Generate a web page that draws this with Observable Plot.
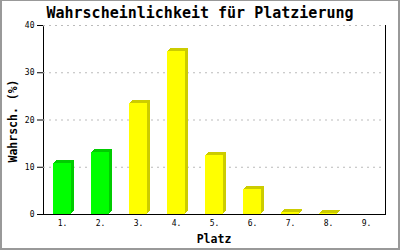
<!DOCTYPE html>
<html><head><meta charset="utf-8">
<script src="https://cdn.jsdelivr.net/npm/d3@7"></script>
<script src="https://cdn.jsdelivr.net/npm/@observablehq/plot@0.6"></script>
<style>
body{margin:0;background:#fff}
#wrap{position:relative;width:400px;height:250px;overflow:hidden;font-family:"DejaVu Sans Mono",monospace;background:#fff}
#border{position:absolute;left:0;top:0;width:400px;height:250px;box-sizing:border-box;border:2px solid #999;border-top-width:1px;pointer-events:none}
.t{position:absolute;font-weight:bold;white-space:nowrap;color:#000}
#title{left:0;width:400px;text-align:center;top:3px;font-size:15px;line-height:20px}
#xl{left:43px;width:342px;text-align:center;top:231px;font-size:11.5px;line-height:16px}
#yl{left:13px;top:121px;font-size:11.5px;line-height:14px;transform:translate(-50%,-50%) rotate(-90deg)}
#chart{position:absolute;left:0;top:0}
</style></head>
<body>
<div id="wrap">
  <div id="chart"></div>
  <div class="t" id="title">Wahrscheinlichkeit für Platzierung</div>
  <div class="t" id="yl">Wahrsch. (%)</div>
  <div class="t" id="xl">Platz</div>
  <div id="border"></div>
</div>
<script>
const places = ["1.", "2.", "3.", "4.", "5.", "6.", "7.", "8.", "9."];
const probs = [10.8, 13.1, 23.5, 34.6, 12.5, 5.3, 0.4, 0.2, 0];
const tiers = ["top", "top", "rest", "rest", "rest", "rest", "rest", "rest", "rest"];
const yTicks = [0, 10, 20, 30, 40];

const data = places.map((p, i) => ({place: p, value: probs[i], tier: tiers[i]}));
const frontColor = {top: "#00ff00", rest: "#ffff00"};
const sideColor = {top: "#00cc00", rest: "#cccc00"};

const depthMarks = [3, 2, 1].map(k => Plot.barY(data, {
  x: "place", y: "value", fill: d => sideColor[d.tier], dx: k, dy: -k, shapeRendering: "crispEdges"
}));

const chart = Plot.plot({
  width: 400, height: 250,
  marginLeft: 43, marginRight: 15, marginTop: 25, marginBottom: 36,
  style: {fontFamily: "'DejaVu Sans Mono', monospace", fontSize: "8px", background: "transparent", color: "#000"},
  x: {domain: places, paddingInner: 0.526, paddingOuter: 0.263, label: null, tickSize: 0, tickPadding: 6},
  y: {domain: [0, 40], ticks: yTicks.length - 1, label: null, tickSize: 6, tickPadding: 3},
  color: {type: "identity"},
  marks: [
    Plot.frame({stroke: "#000"}),
    Plot.ruleY([yTicks[yTicks.length - 1]], {stroke: "#fff", strokeWidth: 1.5}),
    Plot.ruleY(yTicks.filter(v => v > 0), {stroke: "#bbb", strokeDasharray: "2,4"}),
    ...depthMarks,
    Plot.barY(data, {x: "place", y: "value", fill: d => frontColor[d.tier], shapeRendering: "crispEdges"}),
    Plot.ruleY([0], {stroke: "#000"})
  ]
});
document.getElementById("chart").appendChild(chart);
</script>
</body></html>
